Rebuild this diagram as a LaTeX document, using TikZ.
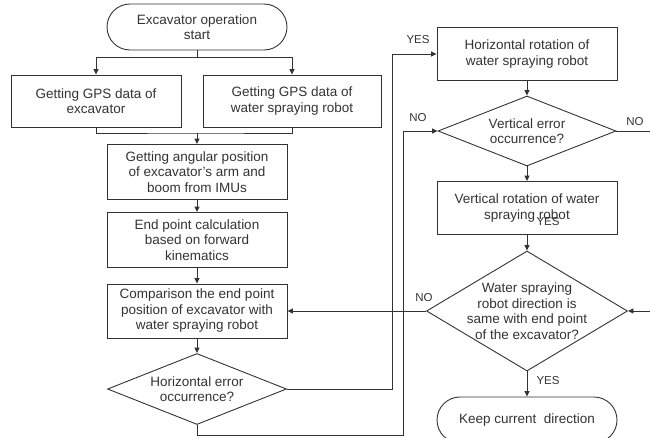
\documentclass[tikz,border=0pt]{standalone}
\usepackage{fontspec}
\setmainfont{Liberation Sans}
\usetikzlibrary{shapes.geometric,shapes.misc,arrows.meta}

\begin{document}
\begin{tikzpicture}[x=1pt,y=-1pt,line width=0.9pt,color=black!80,
    >={Triangle[length=5.5pt,width=5pt]},
    every node/.style={font=\fontsize{13.5}{15.5}\selectfont,align=center,inner sep=0pt},
    proc/.style={draw,rectangle,minimum width=180pt,minimum height=54pt},
    term/.style={draw,rounded rectangle,minimum width=180pt,minimum height=46pt},
    dec/.style={draw,diamond,aspect=2.5,minimum width=179pt,minimum height=71pt},
    ans/.style={font=\fontsize{11.5}{13}\selectfont}]
    \useasboundingbox (0,0) rectangle (650,437);
    \clip (0,0) rectangle (650,437);

    % left column
    \node[term] (start) at (197,27) {Excavator operation\\start};
    \node[proc,minimum width=170pt,minimum height=52pt] (gpsE) at (96,101) {Getting GPS data of\\excavator};
    \node[proc,minimum width=178pt,minimum height=52pt] (gpsR) at (292,101) {Getting GPS data of\\water spraying robot};
    \node[proc,minimum height=55pt] (angle) at (197,172) {Getting angular position\\of excavator’s arm and\\boom from IMUs};
    \node[proc,minimum height=55pt] (endp) at (197,240) {End point calculation\\based on forward\\kinematics};
    \node[proc] (comp) at (197,311) {Comparison the end point\\position of excavator with\\water spraying robot};
    \node[dec] (herr) at (197,389) {Horizontal error\\occurrence?};

    % right column
    \node[proc,minimum height=53pt] (hrot) at (527,54) {Horizontal rotation of\\water spraying robot};
    \node[dec,minimum width=178pt,minimum height=70pt] (verr) at (527,131) {Vertical error\\occurrence?};
    \node[proc,minimum height=53pt] (vrot) at (527,208) {Vertical rotation of water\\spraying robot};
    \node[dec,minimum width=201pt,minimum height=120pt,
      label={[name=sametxt]center:Water spraying\\robot direction is\\same with end point\\of the excavator?}] (same) at (527,311) {};
    \node[term] (keep) at (527,420) {Keep current~ direction};

    \coordinate (split) at (197,57);
    \coordinate (join) at (197,133);
    \coordinate (yesturn) at (392,389);
    \coordinate (noturn) at (403,435);
    \coordinate (edge) at (662,131);

    \draw (start) -- (split);
    \draw[->] (split) -| (gpsE);
    \draw[->] (split) -| (gpsR);
    \draw (gpsE.south) |- (join) -| (gpsR.south);
    \draw[->] (join) -- (angle);
    \draw[->] (angle) -- (endp);
    \draw[->] (endp) -- (comp);
    \draw[->] (comp) -- (herr);

    \draw[->] (herr.east) -- (yesturn) |- (hrot.west);
    \draw[->] (herr.south) |- (noturn) |- (verr.west);
    \draw[->] (hrot) -- (verr);
    \draw[->] (verr) -- (vrot);
    \draw[->] (vrot) -- (same);
    \draw[->] (verr.east) -- (edge) |- (same.east);
    \draw[->] (same.west) -- (comp.east);
    \draw[->] (same.south) -- (keep.north);

    \node[ans] (yes1) at (418,40) {YES};
    \node[ans] (no1) at (418,118) {NO};
    \node[ans] (no2) at (635,122) {NO};
    \node[ans] (no3) at (424,298) {NO};
    \node[ans] (yes2) at (548,381) {YES};
    \node[ans] (yes3) at (548,222) {YES};
\end{tikzpicture}
\end{document}
